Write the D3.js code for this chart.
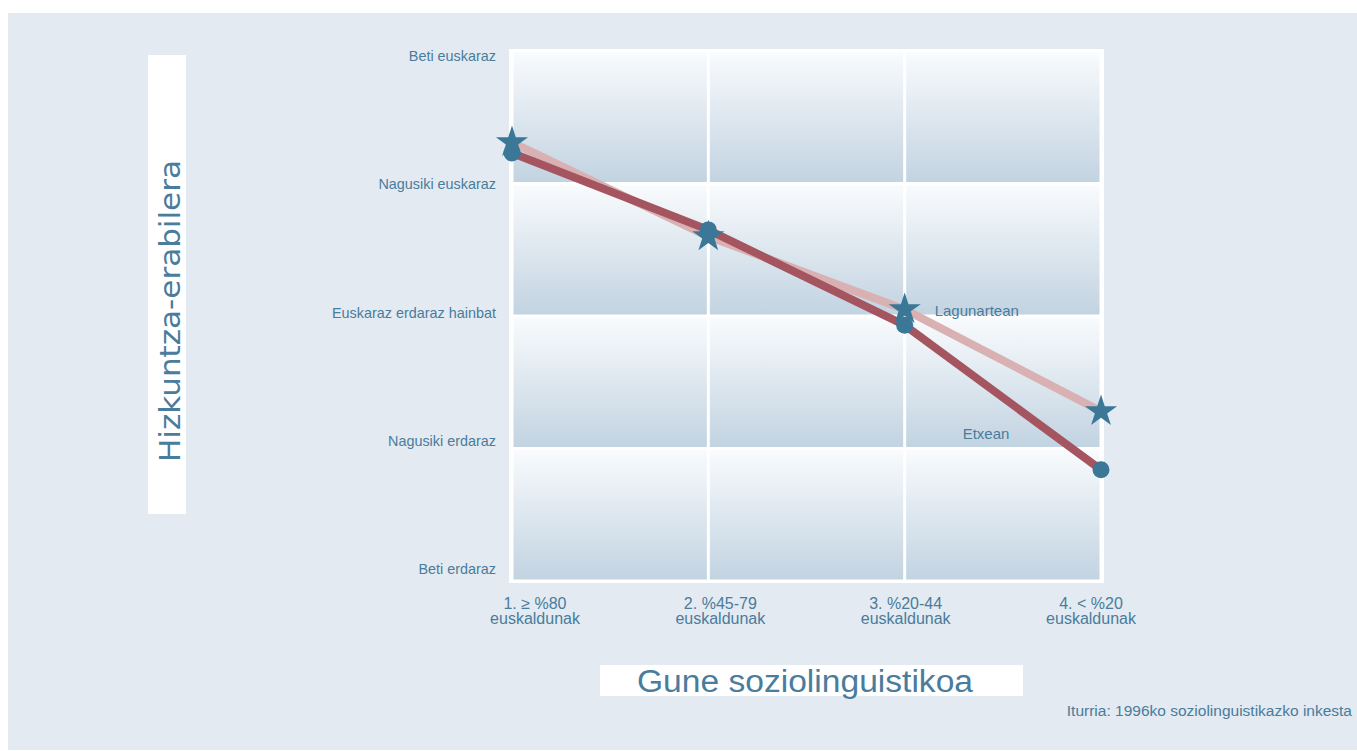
<!DOCTYPE html>
<html>
<head>
<meta charset="utf-8">
<script src="https://cdn.jsdelivr.net/npm/d3@7"></script>
<style>
  body { margin: 0; background: #fff; }
  text { fill: #4a7c9c; font-family: "Liberation Sans", Arial, sans-serif; }
</style>
</head>
<body>
<div id="main-content"></div>
<script>
// Categories along the x axis (two lines each)
const categories = ["1", "2", "3", "4"];
const categoryLine1 = ["1. \u2265 %80", "2.  %45-79", "3. %20-44", "4. < %20"];
const categoryLine2 = ["euskaldunak", "euskaldunak", "euskaldunak", "euskaldunak"];

// Language use levels, 1 = always Spanish ... 5 = always Basque
const levels = [5, 4, 3, 2, 1];
const levelLabels = ["Beti euskaraz", "Nagusiki euskaraz", "Euskaraz erdaraz hainbat", "Nagusiki erdaraz", "Beti erdaraz"];

// Series values
const etxean = [4.23, 3.65, 2.93, 1.84];
const lagunartean = [4.31, 3.60, 3.05, 2.28];

const width = 1357, height = 751;

const svg = d3.select("#main-content")
    .append("svg")
    .attr("width", width)
    .attr("height", height);

// Gradient used by every cell of the plot
const defs = svg.append("defs");
const grad = defs.append("linearGradient")
    .attr("id", "cellGrad")
    .attr("x1", 0).attr("y1", 0).attr("x2", 0).attr("y2", 1);
grad.append("stop").attr("offset", "0%").attr("stop-color", "#f9fbfd");
grad.append("stop").attr("offset", "100%").attr("stop-color", "#c2d3e1");

// Light background panel
svg.append("rect")
    .attr("x", 8).attr("y", 13)
    .attr("width", width - 8).attr("height", 737)
    .attr("fill", "#e3eaf1");

// Scales
const x = d3.scalePoint().domain(categories).range([512, 1101]);
const y = d3.scaleLinear().domain([1, 5]).range([581, 51]);
// labels sit on slightly different positions than the grid
const xLabel = d3.scalePoint().domain(categories).range([535, 1091]);
const yLabel = d3.scaleLinear().domain([1, 5]).range([569, 56]);

// White frame behind the cells
svg.append("rect")
    .attr("x", x.range()[0] - 3).attr("y", y(5) - 2)
    .attr("width", x.range()[1] - x.range()[0] + 6)
    .attr("height", y(1) - y(5) + 4)
    .attr("fill", "#fff");

// Cells with gradient
const cols = d3.pairs(categories);
const rows = d3.pairs(levels);
rows.forEach(r => {
    cols.forEach(c => {
        svg.append("rect")
            .attr("x", x(c[0]) + 1.5)
            .attr("y", y(r[0]) + 1.5)
            .attr("width", x(c[1]) - x(c[0]) - 3)
            .attr("height", y(r[1]) - y(r[0]) - 3)
            .attr("fill", "url(#cellGrad)");
    });
});

// Y tick labels
svg.append("g")
    .selectAll("text")
    .data(levels)
    .enter()
    .append("text")
    .attr("x", 496)
    .attr("y", d => yLabel(d))
    .attr("dy", "0.35em")
    .attr("text-anchor", "end")
    .style("font-size", "14.4px")
    .text((d, i) => levelLabels[i]);

// X tick labels, two lines
const xt = svg.append("g")
    .selectAll("text")
    .data(categories)
    .enter()
    .append("text")
    .attr("text-anchor", "middle")
    .style("font-size", "16px");
xt.append("tspan")
    .attr("x", d => xLabel(d))
    .attr("y", 609)
    .text((d, i) => categoryLine1[i]);
xt.append("tspan")
    .attr("x", d => xLabel(d))
    .attr("y", 624)
    .text((d, i) => categoryLine2[i]);

// Lines
const line = d3.line()
    .x((d, i) => x(categories[i]))
    .y(d => y(d));

svg.append("path")
    .datum(lagunartean)
    .attr("d", line)
    .attr("fill", "none")
    .attr("stroke", "#d9b1b2")
    .attr("stroke-width", 8);

svg.append("path")
    .datum(etxean)
    .attr("d", line)
    .attr("fill", "none")
    .attr("stroke", "#a45560")
    .attr("stroke-width", 8);

// Markers: circles for Etxean, stars for Lagunartean
svg.append("g")
    .selectAll("circle")
    .data(etxean)
    .enter()
    .append("circle")
    .attr("cx", (d, i) => x(categories[i]))
    .attr("cy", d => y(d))
    .attr("r", 8.5)
    .attr("fill", "#3b7898");

svg.append("g")
    .selectAll("path")
    .data(lagunartean)
    .enter()
    .append("path")
    .attr("d", d3.symbol().type(d3.symbolStar).size(320))
    .attr("transform", (d, i) => `translate(${x(categories[i])},${y(d)})`)
    .attr("fill", "#3b7898");

// Series labels
svg.append("text")
    .attr("x", x(categories[2]) + 30)
    .attr("y", y(lagunartean[2]) + 7)
    .style("font-size", "15px")
    .text("Lagunartean");

svg.append("text")
    .attr("x", x(categories[2]) + 58)
    .attr("y", y(2.12) + 6)
    .style("font-size", "15px")
    .text("Etxean");

// Y axis title in a white box
svg.append("rect")
    .attr("x", 148).attr("y", 55)
    .attr("width", 38).attr("height", 459)
    .attr("fill", "#fff");
svg.append("text")
    .attr("transform", "translate(180,311) rotate(-90)")
    .attr("text-anchor", "middle")
    .attr("textLength", 302)
    .attr("lengthAdjust", "spacingAndGlyphs")
    .style("font-family", "'DejaVu Sans', Verdana, sans-serif")
    .style("font-size", "28px")
    .text("Hizkuntza-erabilera");

// X axis title in a white box
svg.append("rect")
    .attr("x", 600).attr("y", 665)
    .attr("width", 423).attr("height", 31)
    .attr("fill", "#fff");
svg.append("text")
    .attr("x", 805).attr("y", 692)
    .attr("text-anchor", "middle")
    .attr("textLength", 336)
    .attr("lengthAdjust", "spacingAndGlyphs")
    .style("font-size", "31px")
    .text("Gune soziolinguistikoa");

// Source
svg.append("text")
    .attr("x", 1352).attr("y", 716)
    .attr("text-anchor", "end")
    .style("font-size", "15.5px")
    .text("Iturria: 1996ko soziolinguistikazko inkesta");
</script>
</body>
</html>
